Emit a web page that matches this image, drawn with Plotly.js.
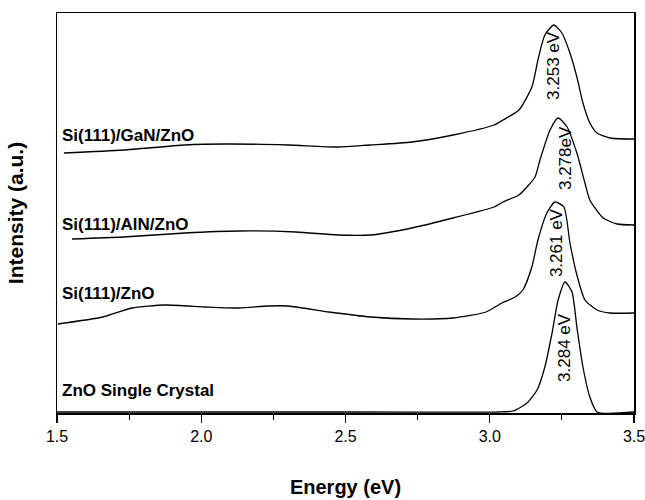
<!DOCTYPE html>
<html>
<head>
<meta charset="utf-8">
<script src="https://cdn.plot.ly/plotly-3.0.1.min.js"></script>
<style>html,body{margin:0;padding:0;background:#fff}#chart{width:645px;height:500px}</style>
</head>
<body>
<div id="chart"></div>
<script>
// Energy (eV) and intensity (arbitrary units, offset stacks)
var ganE = [1.524,1.730,1.944,2.086,2.301,2.473,2.585,2.730,2.873,3.015,3.046,3.101,3.146,3.167,3.191,3.222,3.250,3.278,3.302,3.323,3.347,3.372,3.417,3.500];
var ganI = [260,263,268,269,268,266,268,271,278,288,293,303,326,353,378,388,380,360,336,310,290,280,275,274];

var alnE = [1.552,1.730,1.944,2.131,2.328,2.473,2.587,2.730,2.873,3.015,3.046,3.101,3.129,3.157,3.174,3.209,3.237,3.268,3.302,3.330,3.347,3.393,3.441,3.500];
var alnI = [174,176,180,182,181,178,178,185,195,206,211,218,226,236,253,283,295,286,260,230,213,195,189,188];

var siE = [1.503,1.659,1.760,1.874,2.016,2.131,2.231,2.301,2.443,2.587,2.730,2.873,2.987,3.042,3.088,3.115,3.146,3.167,3.198,3.226,3.257,3.278,3.302,3.330,3.372,3.417,3.500];
var siI = [89,96,105,108,106,105,107,107,101,96,94,95,101,110,116,123,146,173,200,211,206,170,138,113,103,100,100];

var scE = [1.500,2.000,2.500,3.025,3.081,3.129,3.164,3.191,3.216,3.237,3.261,3.285,3.302,3.323,3.347,3.372,3.500];
var scI = [1,1,1,1,2,10,23,46,80,113,131,121,86,46,16,1,1];

var sampleNames = ["Si(111)/GaN/ZnO","Si(111)/AlN/ZnO","Si(111)/ZnO","ZnO Single Crystal"];
var nameE = [1.51,1.51,1.51,1.51];
var nameI = [278,189,120,23];

var peakLabels = ["3.253 eV","3.278eV","3.261 eV","3.284 eV"];
var peakLabelE = [3.219,3.261,3.230,3.257];
var peakLabelI = [348,255,170,66];

var xTicks = [1.5,2.0,2.5,3.0,3.5];
var xTickText = ["1.5","2.0","2.5","3.0","3.5"];

var FONT = "Liberation Sans, Arial, Helvetica, sans-serif";
var series = [[ganE,ganI],[alnE,alnI],[siE,siI],[scE,scI]];
var traces = series.map(function(s,i){
  return {x:s[0], y:s[1], type:"scatter", mode:"lines", name:sampleNames[i],
    line:{color:"#000", width:1.3, shape:"spline", smoothing:0.6}, hoverinfo:"skip"};
});

var annotations = [];
sampleNames.forEach(function(t,i){
  annotations.push({x:nameE[i], y:nameI[i], xref:"x", yref:"y", text:"<b>"+t+"</b>",
    showarrow:false, xanchor:"left", yanchor:"middle", font:{family:FONT,size:17,color:"#000"}});
});
peakLabels.forEach(function(t,i){
  annotations.push({x:peakLabelE[i], y:peakLabelI[i], xref:"x", yref:"y", text:t,
    showarrow:false, textangle:-90, xanchor:"center", yanchor:"middle", font:{family:FONT,size:17,color:"#000"}});
});

var layout = {
  width:645, height:500,
  margin:{l:57, r:11, t:13, b:87},
  paper_bgcolor:"#fff", plot_bgcolor:"#fff",
  showlegend:false,
  font:{family:FONT, color:"#000"},
  xaxis:{range:[1.5,3.5], tickvals:xTicks, ticktext:xTickText, ticks:"outside", ticklen:8, tickwidth:1.2, tickcolor:"#000",
    ticklabeloverflow:"allow",
    minor:{dtick:0.25, tick0:1.5, ticks:"outside", ticklen:5, tickwidth:1, tickcolor:"#000", showgrid:false},
    showline:true, linecolor:"#000", linewidth:1.5, mirror:true, showgrid:false, zeroline:false,
    tickfont:{family:FONT, size:16, color:"#000"},
    title:{text:"<b>Energy (eV)</b>", font:{family:FONT, size:20, color:"#000"}, standoff:36}},
  yaxis:{range:[0,400], showticklabels:false, ticks:"", showline:true, linecolor:"#000", linewidth:1.5, mirror:true,
    showgrid:false, zeroline:false,
    title:{text:"<b>Intensity (a.u.)</b>", font:{family:FONT, size:21, color:"#000"}, standoff:26}},
  annotations:annotations
};
Plotly.newPlot("chart", traces, layout, {displayModeBar:false, staticPlot:true});
</script>
</body>
</html>
